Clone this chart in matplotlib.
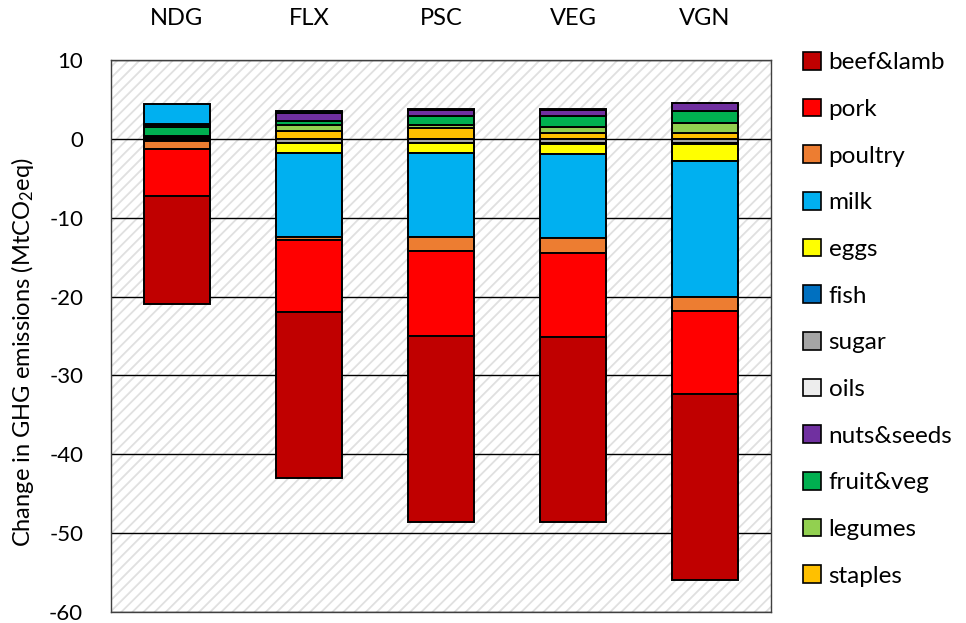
import matplotlib
matplotlib.use("Agg")
import matplotlib.pyplot as plt
from matplotlib.patches import Patch

plt.rcParams['font.family'] = ['Lato', 'DejaVu Sans']
plt.rcParams['axes.unicode_minus'] = False
plt.rcParams['mathtext.fontset'] = 'custom'
plt.rcParams['mathtext.rm'] = 'Lato'
plt.rcParams['mathtext.it'] = 'Lato'
plt.rcParams['hatch.linewidth'] = 1.3
plt.rcParams['hatch.color'] = '#E0E0E0'

# Diet scenarios
diets = ["NDG", "FLX", "PSC", "VEG", "VGN"]

# Change in GHG emissions per food group (MtCO2eq), one value per diet
beef_lamb = [-13.7, -20.95, -23.63, -23.53, -23.56]
pork = [-5.9, -9.2, -10.8, -10.59, -10.6]
poultry = [-1.0, -0.3, -1.67, -1.88, -1.76]
milk = [2.5, -10.65, -10.67, -10.67, -17.2]
eggs = [-0.2, -1.3, -1.33, -1.33, -2.21]
fish = [0.2, 0.3, 0.15, -0.1, -0.1]
sugar = [-0.1, -0.55, -0.5, -0.5, -0.53]
oils = [0.0, 0.0, 0.0, 0.12, 0.0]
nuts_seeds = [0.2, 1.0, 0.79, 0.8, 0.9]
fruit_veg = [1.2, 0.46, 1.06, 1.29, 1.56]
legumes = [0.1, 0.84, 0.42, 0.82, 1.3]
staples = [0.2, 0.96, 1.36, 0.73, 0.73]

food_groups = ["beef&lamb", "pork", "poultry", "milk", "eggs", "fish", "sugar",
               "oils", "nuts&seeds", "fruit&veg", "legumes", "staples"]
series = [beef_lamb, pork, poultry, milk, eggs, fish, sugar,
          oils, nuts_seeds, fruit_veg, legumes, staples]
colors = ["#C00000", "#FF0000", "#ED7D31", "#00B0F0", "#FFFF00", "#0070C0",
          "#A5A5A5", "#EDEDED", "#7030A0", "#00B050", "#92D050", "#FFC000"]

yticks = [10, 0, -10, -20, -30, -40, -50, -60]

fig = plt.figure(figsize=(9.66, 6.23), dpi=100)
ax = fig.add_axes([111 / 966, 1 - 612 / 623, 660 / 966, 552 / 623])

# hatched plot background
ax.patch.set_facecolor("white")
ax.patch.set_edgecolor("#E0E0E0")
ax.patch.set_hatch("///")
ax.patch.set_linewidth(0)

x = list(range(len(diets)))
pos = [0.0] * len(diets)
neg = [0.0] * len(diets)
# stack from the last food group outward from zero
for name, vals, col in reversed(list(zip(food_groups, series, colors))):
    for i, v in enumerate(vals):
        if v == 0:
            continue
        if v > 0:
            base = pos[i]
            pos[i] += v
        else:
            base = neg[i]
            neg[i] += v
        ax.bar(x[i], v, bottom=base, width=0.5, color=col,
               edgecolor="black", linewidth=1.4, zorder=3)

ax.set_xlim(-0.5, len(diets) - 0.5)
ax.set_ylim(-60, 10)
ax.set_yticks(yticks)
ax.yaxis.grid(True, color="black", linewidth=1.0, zorder=1)
ax.set_axisbelow(True)
ax.tick_params(axis="y", length=0, pad=20, labelsize=16)

ax.xaxis.tick_top()
ax.set_xticks(x)
ax.set_xticklabels(diets)
ax.tick_params(axis="x", length=0, pad=22, labelsize=17)

for s in ax.spines.values():
    s.set_color("#404040")
    s.set_linewidth(1.0)

ax.set_ylabel(r"Change in GHG emissions (MtCO$_2$eq)", fontsize=17)
ax.yaxis.set_label_coords(-0.113, 0.47)

handles = [Patch(facecolor=c, edgecolor="black", linewidth=1.2) for c in colors]
fig.legend(handles, food_groups, loc="upper left",
           bbox_to_anchor=(803 / 966, 1 - 52 / 623), frameon=False,
           fontsize=17.5, handlelength=0.75, handleheight=0.75,
           handletextpad=0.3, labelspacing=1.04, borderpad=0,
           borderaxespad=0)

fig.savefig("out.png", dpi=100)
